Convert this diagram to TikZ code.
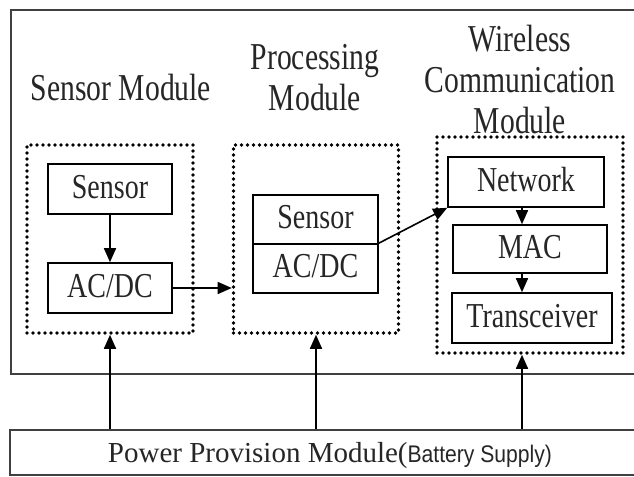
\documentclass[tikz,border=0pt]{standalone}
\usepackage{fontspec}
\setmainfont{Liberation Serif}
\newfontfamily\narrowserif[FakeStretch=0.8]{Liberation Serif}
\newfontfamily\narrowtitle[FakeStretch=0.78]{Liberation Serif}
\newfontfamily\narrowsans[FakeStretch=0.88]{Liberation Sans}
\usetikzlibrary{arrows.meta}

\tikzset{
	blk/.style={draw, line width=0.8pt, minimum width=#1, minimum height=25pt, inner sep=0pt,
		text height=9pt, text depth=0pt, font=\narrowserif\fontsize{17.5}{20}\selectfont},
	blk/.default=62pt,
	modbox/.style={draw, line width=1.8pt, dash pattern=on 0pt off 3pt, line cap=round, inner sep=0pt},
	modlabel/.style={align=center, inner sep=0pt, font=\narrowtitle\fontsize{19}{20.5}\selectfont},
	flow/.style={line width=0.8pt, -{Triangle[length=7pt,width=6pt]}},
}

\begin{document}
\begin{tikzpicture}[x=0.5pt, y=-0.5pt, text=black!85]
	\clip (0,0) rectangle (634,477);
	\fill[white] (0,0) rectangle (634,477);
	\draw[line width=1pt, black!75] (11,10) rectangle (660,374); % outer frame
	% dotted module boxes
	\node[modbox, minimum width=83pt, minimum height=94pt] (smod) at (110,239) {};
	\node[modbox, minimum width=82.5pt, minimum height=94pt] (pmod) at (316,239) {};
	\node[modbox, minimum width=93pt, minimum height=108pt] (wmod) at (530,245) {};
	% module titles
	\node[modlabel, anchor=base] (slbl) at (121,100) {Sensor Module};
	\node[modlabel, anchor=base] (plbl) at (315,110) {Processing\\Module};
	\node[modlabel, anchor=base] (wlbl) at (520,133) {Wireless\\Communication\\Module};
	% sensor module
	\node[blk] (sens) at (110,189) {Sensor};
	\node[blk] (adc) at (110,288) {AC/DC};
	% processing module
	\node[blk=62.5pt, minimum height=24.5pt] (psens) at (315.5,219.5) {Sensor};
	\node[blk=62.5pt, minimum height=24.5pt] (padc) at (315.5,268.5) {AC/DC};
	% wireless module
	\node[blk=78pt] (net) at (526,182) {Network};
	\node[blk=77pt, minimum height=24pt] (mac) at (530,249) {MAC};
	\node[blk=80pt] (trx) at (532,318) {Transceiver};
	\coordinate (wx) at (522,0);
	% power supply
	\node[draw, line width=1pt, black!75, minimum width=320pt, minimum height=22.5pt, inner sep=0pt,
		text height=9.5pt, text depth=0pt, font=\fontsize{14.5}{16}\selectfont, text=black!85] (power) at (330,452.5)
		{Power Provision Module({\narrowsans\fontsize{12}{14}\selectfont Battery Supply)}};
	% data flow
	\draw[flow] (sens) -- (adc);
	\draw[flow] (adc.east) -- (adc.east -| pmod.west);
	\draw[flow] (padc.north east) -- (net.south west);
	\draw[flow] (net.south -| wx) -- (mac.north -| wx);
	\draw[flow] (mac.south -| wx) -- (trx.north -| wx);
	% power feeds
	\draw[flow] (smod.south |- power.north) -- (smod.south);
	\draw[flow] (pmod.south |- power.north) -- (pmod.south);
	\draw[flow] (wx |- power.north) -- (wx |- wmod.south);
\end{tikzpicture}
\end{document}
